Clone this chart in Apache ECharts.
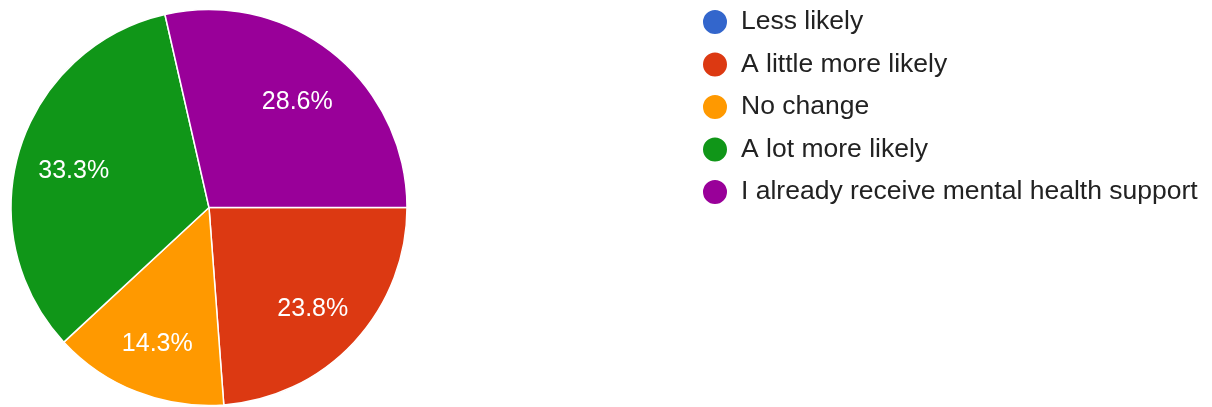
<!DOCTYPE html>
<html>
<head>
<meta charset="utf-8">
<title>Mental health support responses</title>
<script src="https://cdn.jsdelivr.net/npm/echarts@6/dist/echarts.min.js"></script>
<style>
  html, body { margin: 0; padding: 0; background: #ffffff; }
  #chart { width: 1212px; height: 407px; }
</style>
</head>
<body>
<div id="chart"></div>
<script>
// Survey answers and response counts
const categories = [
  'Less likely',
  'A little more likely',
  'No change',
  'A lot more likely',
  'I already receive mental health support'
];
const responses = [0, 5, 3, 7, 6];
const sliceColors = ['#3366cc', '#dc3912', '#ff9900', '#109618', '#990099'];

const FONT = '"Liberation Sans", Arial, sans-serif';
const CENTER = [209, 207.5];
const RADIUS = 198;

const pieData = categories.map((name, i) => ({ name, value: responses[i] }));

const chart = echarts.init(document.getElementById('chart'), null, { renderer: 'canvas' });

chart.setOption({
  animation: false,
  color: sliceColors,
  legend: {
    orient: 'vertical',
    left: 701,
    top: 8,
    padding: 0,
    icon: 'circle',
    itemWidth: 26,
    itemHeight: 26,
    itemGap: 14.5,
    selectedMode: false,
    data: categories,
    textStyle: {
      fontFamily: FONT,
      fontSize: 26.5,
      lineHeight: 26,
      color: '#222222',
      padding: [0, 0, 0, 8]
    }
  },
  series: [
    {
      // the slices themselves
      name: 'slices',
      type: 'pie',
      center: CENTER,
      radius: [0, RADIUS],
      startAngle: 0,
      clockwise: true,
      silent: true,
      label: { show: false },
      labelLine: { show: false },
      itemStyle: { borderColor: '#ffffff', borderWidth: 1.5 },
      data: pieData
    },
    {
      // a transparent ring carrying the percentage labels further out
      name: 'labels',
      type: 'pie',
      center: CENTER,
      radius: [RADIUS * 0.4, RADIUS],
      startAngle: 0,
      clockwise: true,
      silent: true,
      percentPrecision: 1,
      itemStyle: { color: 'rgba(0,0,0,0)', borderWidth: 0 },
      labelLine: { show: false },
      label: {
        show: true,
        position: 'inside',
        fontFamily: FONT,
        fontSize: 25,
        color: '#ffffff',
        offset: [0, 5],
        formatter: p => (p.value > 0 ? p.percent.toFixed(1) + '%' : '')
      },
      data: pieData
    }
  ]
});
</script>
</body>
</html>
